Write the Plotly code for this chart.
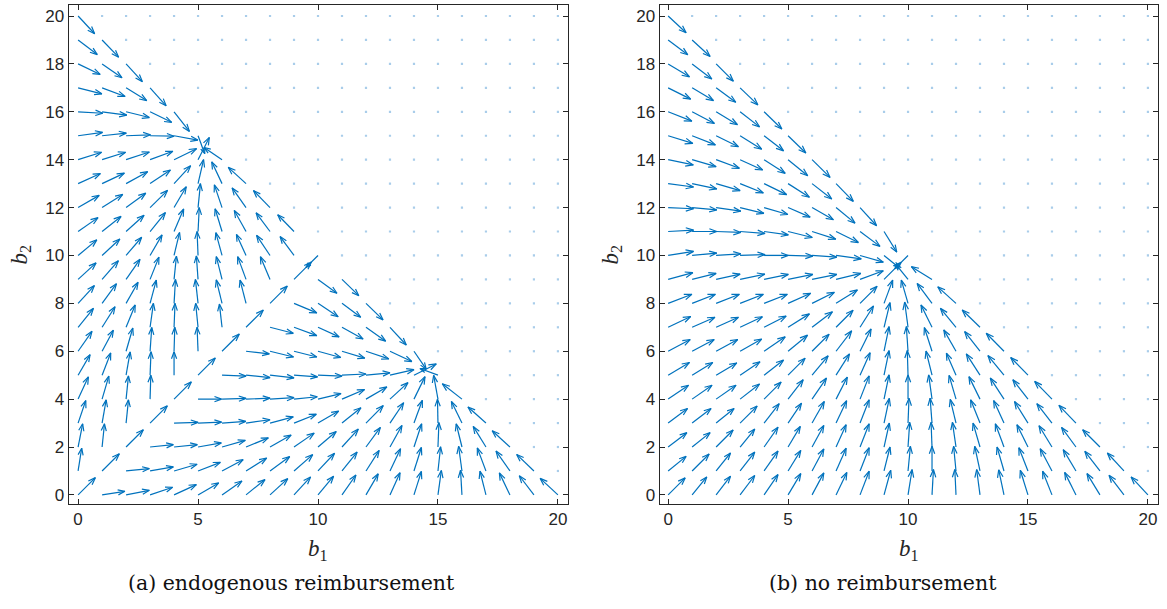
import math
import plotly.graph_objects as go
import plotly.figure_factory as ff

# ---------------- data ----------------
B1_TICKS = [0, 5, 10, 15, 20]
B2_TICKS = [0, 2, 4, 6, 8, 10, 12, 14, 16, 18, 20]
GRID_MAX = 20
CAPTION_A = "(a) endogenous reimbursement"
CAPTION_B = "(b) no reimbursement"

# Panel (a): row k holds the vectors at b2 = k for b1 = 0 .. len(row)-1
# (grid points not listed carry a zero vector and show as a dot)
A_U = [
    [0.72, 0.95, 0.97, 0.94, 0.93, 0.86, 0.83, 0.79, 0.74, 0.69, 0.65, 0.58, 0.51, 0.42, 0.31, 0.14, -0.06, -0.25, -0.44, -0.61, -0.74],
    [0.15, 0.72, 0.97, 0.97, 0.96, 0.93, 0.88, 0.86, 0.82, 0.78, 0.69, 0.63, 0.55, 0.44, 0.31, 0.11, -0.14, -0.36, -0.58, -0.72],
    [0.19, 0.10, 0.72, 0.97, 0.97, 0.97, 0.97, 0.93, 0.88, 0.84, 0.76, 0.68, 0.60, 0.50, 0.32, 0.04, -0.24, -0.53, -0.74],
    [0.32, 0.17, 0.10, 0.72, 1.00, 0.98, 0.99, 1.00, 0.97, 0.93, 0.86, 0.79, 0.72, 0.57, 0.35, -0.02, -0.44, -0.75],
    [0.43, 0.28, 0.10, 0.03, 0.72, 0.98, 1.00, 1.00, 1.00, 0.97, 0.96, 0.94, 0.87, 0.75, 0.46, -0.18, -0.82],
    [0.50, 0.36, 0.17, 0.04, 0.00, 0.72, 1.00, 1.00, 1.00, 0.98, 1.00, 1.00, 1.00, 1.00, 0.93, -0.75],
    [0.58, 0.47, 0.28, 0.07, 0.03, -0.04, 0.72, 0.97, 0.98, 0.95, 0.95, 0.95, 0.95, 0.91, 0.51],
    [0.64, 0.54, 0.38, 0.14, 0.04, -0.10, -0.11, 0.72, 0.97, 0.95, 0.88, 0.88, 0.82, 0.68],
    [0.68, 0.60, 0.50, 0.26, 0.06, -0.11, -0.24, -0.25, 0.72, 0.95, 0.84, 0.78, 0.71],
    [0.75, 0.68, 0.58, 0.37, 0.10, -0.07, -0.24, -0.35, -0.40, 0.72, 0.79, 0.70],
    [0.78, 0.74, 0.65, 0.50, 0.23, -0.04, -0.26, -0.40, -0.56, -0.58, -0.50],
    [0.83, 0.79, 0.75, 0.64, 0.40, 0.05, -0.29, -0.49, -0.58, -0.68],
    [0.88, 0.86, 0.82, 0.73, 0.51, 0.10, -0.32, -0.58, -0.69],
    [0.93, 0.93, 0.90, 0.85, 0.69, 0.23, -0.43, -0.74],
    [0.98, 0.98, 0.97, 0.95, 0.94, 0.47, -0.75],
    [1.02, 1.01, 1.02, 1.00, 0.99, 0.28],
    [1.03, 1.03, 0.97, 0.90, 0.64],
    [0.99, 0.96, 0.86, 0.67],
    [0.92, 0.83, 0.68],
    [0.80, 0.69],
    [0.69],
]
A_V = [
    [0.72, 0.15, 0.19, 0.32, 0.43, 0.50, 0.58, 0.64, 0.68, 0.75, 0.78, 0.83, 0.88, 0.93, 0.98, 1.02, 1.03, 0.99, 0.92, 0.80, 0.69],
    [0.95, 0.72, 0.10, 0.17, 0.28, 0.36, 0.47, 0.54, 0.60, 0.68, 0.74, 0.79, 0.86, 0.93, 0.98, 1.01, 1.03, 0.96, 0.83, 0.69],
    [0.97, 0.97, 0.72, 0.10, 0.10, 0.17, 0.28, 0.38, 0.50, 0.58, 0.65, 0.75, 0.82, 0.90, 0.97, 1.02, 0.97, 0.86, 0.68],
    [0.94, 0.97, 0.97, 0.72, 0.03, 0.04, 0.07, 0.14, 0.26, 0.37, 0.50, 0.64, 0.73, 0.85, 0.95, 1.00, 0.90, 0.67],
    [0.93, 0.96, 0.97, 1.00, 0.72, 0.00, 0.03, 0.04, 0.06, 0.10, 0.23, 0.40, 0.51, 0.69, 0.94, 0.99, 0.64],
    [0.86, 0.93, 0.97, 0.98, 0.98, 0.72, -0.04, -0.10, -0.11, -0.07, -0.04, 0.05, 0.10, 0.23, 0.47, 0.28],
    [0.83, 0.88, 0.97, 0.99, 1.00, 1.00, 0.72, -0.11, -0.24, -0.24, -0.26, -0.29, -0.32, -0.43, -0.75],
    [0.79, 0.86, 0.93, 1.00, 1.00, 1.00, 0.97, 0.72, -0.25, -0.35, -0.40, -0.49, -0.58, -0.74],
    [0.74, 0.82, 0.88, 0.97, 1.00, 1.00, 0.98, 0.97, 0.72, -0.40, -0.56, -0.58, -0.69],
    [0.69, 0.78, 0.84, 0.93, 0.97, 0.98, 0.95, 0.95, 0.95, 0.72, -0.58, -0.68],
    [0.65, 0.69, 0.76, 0.86, 0.96, 1.00, 0.95, 0.88, 0.84, 0.79, -0.50],
    [0.58, 0.63, 0.68, 0.79, 0.94, 1.00, 0.95, 0.88, 0.78, 0.70],
    [0.51, 0.55, 0.60, 0.72, 0.87, 1.00, 0.95, 0.82, 0.71],
    [0.42, 0.44, 0.50, 0.57, 0.75, 1.00, 0.91, 0.68],
    [0.31, 0.31, 0.32, 0.35, 0.46, 0.93, 0.51],
    [0.14, 0.11, 0.04, -0.02, -0.18, -0.75],
    [-0.06, -0.14, -0.24, -0.44, -0.82],
    [-0.25, -0.36, -0.53, -0.75],
    [-0.44, -0.58, -0.74],
    [-0.61, -0.72],
    [-0.74],
]

# Panel (b)
B_U = [
    [0.71, 0.61, 0.60, 0.61, 0.58, 0.53, 0.49, 0.45, 0.38, 0.28, 0.17, 0.06, -0.05, -0.14, -0.22, -0.32, -0.39, -0.47, -0.54, -0.62, -0.70],
    [0.75, 0.71, 0.60, 0.61, 0.58, 0.53, 0.49, 0.42, 0.38, 0.25, 0.10, 0.00, -0.10, -0.22, -0.29, -0.38, -0.49, -0.53, -0.63, -0.69],
    [0.78, 0.75, 0.71, 0.61, 0.58, 0.51, 0.49, 0.42, 0.38, 0.22, 0.07, -0.04, -0.15, -0.29, -0.36, -0.46, -0.54, -0.60, -0.72],
    [0.81, 0.79, 0.75, 0.71, 0.63, 0.56, 0.51, 0.44, 0.38, 0.22, 0.04, -0.08, -0.24, -0.39, -0.43, -0.56, -0.63, -0.71],
    [0.85, 0.83, 0.83, 0.81, 0.71, 0.63, 0.60, 0.47, 0.38, 0.21, 0.00, -0.14, -0.29, -0.46, -0.57, -0.63, -0.72],
    [0.89, 0.86, 0.86, 0.83, 0.81, 0.71, 0.67, 0.56, 0.42, 0.21, -0.03, -0.25, -0.40, -0.57, -0.67, -0.72],
    [0.92, 0.92, 0.90, 0.90, 0.88, 0.81, 0.71, 0.65, 0.46, 0.21, -0.07, -0.32, -0.51, -0.64, -0.74],
    [0.94, 0.95, 0.93, 0.93, 0.92, 0.89, 0.85, 0.71, 0.56, 0.25, -0.14, -0.46, -0.65, -0.74],
    [0.99, 0.97, 0.97, 0.97, 0.97, 0.94, 0.93, 0.89, 0.71, 0.36, -0.28, -0.62, -0.76],
    [1.03, 1.00, 1.00, 1.03, 1.01, 1.03, 1.03, 1.03, 0.97, 0.71, -0.50, -0.86],
    [1.06, 1.03, 1.03, 1.04, 1.01, 1.03, 1.03, 1.05, 0.97, 0.62, -0.55],
    [1.06, 1.03, 1.03, 1.04, 1.01, 1.01, 0.99, 0.93, 0.83, 0.53],
    [1.06, 1.03, 1.03, 0.99, 0.99, 0.92, 0.89, 0.79, 0.69],
    [1.06, 1.03, 1.00, 0.97, 0.94, 0.89, 0.82, 0.72],
    [1.05, 1.00, 0.97, 0.94, 0.88, 0.82, 0.75],
    [1.03, 0.97, 0.93, 0.90, 0.81, 0.74],
    [0.99, 0.93, 0.89, 0.81, 0.74],
    [0.94, 0.89, 0.82, 0.74],
    [0.89, 0.82, 0.72],
    [0.82, 0.75],
    [0.75],
]
B_V = [
    [0.71, 0.75, 0.78, 0.81, 0.85, 0.89, 0.92, 0.94, 0.99, 1.03, 1.06, 1.06, 1.06, 1.06, 1.05, 1.03, 0.99, 0.94, 0.89, 0.82, 0.75],
    [0.61, 0.71, 0.75, 0.79, 0.83, 0.86, 0.92, 0.95, 0.97, 1.00, 1.03, 1.03, 1.03, 1.03, 1.00, 0.97, 0.93, 0.89, 0.82, 0.75],
    [0.60, 0.60, 0.71, 0.75, 0.83, 0.86, 0.90, 0.93, 0.97, 1.00, 1.03, 1.03, 1.03, 1.00, 0.97, 0.93, 0.89, 0.82, 0.72],
    [0.61, 0.61, 0.61, 0.71, 0.81, 0.83, 0.90, 0.93, 0.97, 1.03, 1.04, 1.04, 0.99, 0.97, 0.94, 0.90, 0.81, 0.74],
    [0.58, 0.58, 0.58, 0.63, 0.71, 0.81, 0.88, 0.92, 0.97, 1.01, 1.01, 1.01, 0.99, 0.94, 0.88, 0.81, 0.74],
    [0.53, 0.53, 0.51, 0.56, 0.63, 0.71, 0.81, 0.89, 0.94, 1.03, 1.03, 1.01, 0.92, 0.89, 0.82, 0.74],
    [0.49, 0.49, 0.49, 0.51, 0.60, 0.67, 0.71, 0.85, 0.93, 1.03, 1.03, 0.99, 0.89, 0.82, 0.75],
    [0.45, 0.42, 0.42, 0.44, 0.47, 0.56, 0.65, 0.71, 0.89, 1.03, 1.05, 0.93, 0.79, 0.72],
    [0.38, 0.38, 0.38, 0.38, 0.38, 0.42, 0.46, 0.56, 0.71, 0.97, 0.97, 0.83, 0.69],
    [0.28, 0.25, 0.22, 0.22, 0.21, 0.21, 0.21, 0.25, 0.36, 0.71, 0.62, 0.53],
    [0.17, 0.10, 0.07, 0.04, 0.00, -0.03, -0.07, -0.14, -0.28, -0.50, -0.55],
    [0.06, 0.00, -0.04, -0.08, -0.14, -0.25, -0.32, -0.46, -0.62, -0.86],
    [-0.05, -0.10, -0.15, -0.24, -0.29, -0.40, -0.51, -0.65, -0.76],
    [-0.14, -0.22, -0.29, -0.39, -0.46, -0.57, -0.64, -0.74],
    [-0.22, -0.29, -0.36, -0.43, -0.57, -0.67, -0.74],
    [-0.32, -0.38, -0.46, -0.56, -0.63, -0.72],
    [-0.39, -0.49, -0.54, -0.63, -0.72],
    [-0.47, -0.53, -0.60, -0.71],
    [-0.54, -0.63, -0.72],
    [-0.62, -0.69],
    [-0.70],
]

# ---------------- layout constants (pixels of the 1167x609 page) ----------------
W, H = 1167, 609
BLUE = "#0072BD"
AXC = "#262626"
PANELS = [
    dict(x0=68.5, x1=568.0, xr=[-0.40, 20.42], cap_x=291),
    dict(x0=659.5, x1=1158.0, xr=[-0.36, 20.42], cap_x=883),
]
Y_TOP, Y_BOT = 5.0, 504.0
YR = [-0.38, 20.46]


def px(x):
    return x / W


def py(y):
    return 1 - y / H


def field_points(U, V):
    xs, ys, us, vs, zx, zy = [], [], [], [], [], []
    for b2, (urow, vrow) in enumerate(zip(U, V)):
        for b1 in range(GRID_MAX + 1):
            if b1 < len(urow):
                xs.append(b1)
                ys.append(b2)
                us.append(urow[b1])
                vs.append(vrow[b1])
            else:
                zx.append(b1)
                zy.append(b2)
    return xs, ys, us, vs, zx, zy


fig = go.Figure()
data_sets = [(A_U, A_V), (B_U, B_V)]
for i, (U, V) in enumerate(data_sets):
    xs, ys, us, vs, zx, zy = field_points(U, V)
    q = ff.create_quiver(xs, ys, us, vs, scale=1.0, arrow_scale=0.32,
                         angle=math.pi / 9, scaleratio=1.0)
    tr = q.data[0]
    sfx = "" if i == 0 else "2"
    fig.add_trace(go.Scatter(x=list(tr.x), y=list(tr.y), mode="lines",
                             line=dict(color=BLUE, width=1.2),
                             hoverinfo="skip", showlegend=False,
                             xaxis="x" + sfx, yaxis="y" + sfx))
    fig.add_trace(go.Scatter(x=zx, y=zy, mode="markers",
                             marker=dict(symbol="square", size=2.2,
                                         color="#a9cdea",
                                         line=dict(width=0)),
                             hoverinfo="skip", showlegend=False,
                             xaxis="x" + sfx, yaxis="y" + sfx))

axis_common = dict(
    showgrid=False, zeroline=False, showline=True, linecolor=AXC, linewidth=1,
    mirror="ticks", ticks="inside", ticklen=5, tickwidth=1, tickcolor=AXC,
    tickfont=dict(family="Liberation Sans, Arial, sans-serif", size=17, color=AXC),
    automargin=False,
)

layout = dict(
    width=W, height=H, margin=dict(l=0, r=0, t=0, b=0),
    paper_bgcolor="white", plot_bgcolor="white", showlegend=False,
)
annotations = []
for i, p in enumerate(PANELS):
    sfx = "" if i == 0 else str(i + 1)
    layout["xaxis" + sfx] = dict(axis_common, domain=[px(p["x0"]), px(p["x1"])],
                                 range=p["xr"], tickvals=B1_TICKS,
                                 anchor="y" + sfx)
    layout["yaxis" + sfx] = dict(axis_common, domain=[py(Y_BOT), py(Y_TOP)],
                                 range=YR, tickvals=B2_TICKS,
                                 anchor="x" + sfx)
    cx = (p["x0"] + p["x1"]) / 2
    annotations.append(dict(text="<i>b</i><sub>1</sub>", x=px(cx), y=py(550),
                            xref="paper", yref="paper", showarrow=False,
                            xanchor="center", yanchor="middle",
                            font=dict(family="Liberation Serif, serif", size=23, color=AXC)))
    annotations.append(dict(text="<i>b</i><sub>2</sub>", x=px(p["x0"] - 48), y=py(255),
                            xref="paper", yref="paper", showarrow=False,
                            textangle=-90, xanchor="center", yanchor="middle",
                            font=dict(family="Liberation Serif, serif", size=23, color=AXC)))
    annotations.append(dict(text=CAPTION_A if i == 0 else CAPTION_B,
                            x=px(p["cap_x"]), y=py(583), xref="paper", yref="paper",
                            showarrow=False, xanchor="center", yanchor="middle",
                            font=dict(family="DejaVu Serif, serif", size=20.5, color="#111111")))
layout["annotations"] = annotations
fig.update_layout(**layout)

fig.write_html("out.html", config={"displayModeBar": False},
               post_script="document.body.style.margin='0';")
